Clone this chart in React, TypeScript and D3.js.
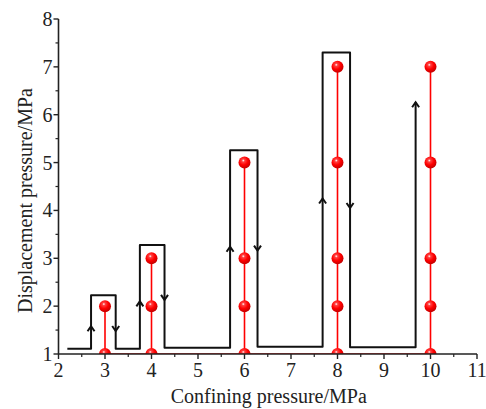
import React from "react"
import * as d3 from "d3"

// Data
const confining = [3, 4, 6, 8, 10]
const displacement = [
  [1, 2],
  [1, 2, 3],
  [1, 2, 3, 5],
  [1, 2, 3, 5, 7],
  [1, 2, 3, 5, 7]
]
// black loading path (confining, displacement)
const pathX = [2.19, 2.7, 2.7, 3.23, 3.23, 3.75, 3.75, 4.28, 4.28, 5.69, 5.69, 6.28, 6.28, 7.68, 7.68, 8.27, 8.27, 9.68, 9.68]
const pathY = [1.11, 1.11, 2.23, 2.23, 1.11, 1.11, 3.28, 3.28, 1.13, 1.13, 5.26, 5.26, 1.15, 1.15, 7.3, 7.3, 1.14, 1.14, 6.26]
// arrow heads on the path
const arrowX = [2.7, 3.23, 3.75, 4.28, 5.69, 6.28, 7.68, 8.27, 9.68]
const arrowY = [1.58, 1.48, 2.1, 2.13, 3.24, 3.16, 4.25, 4.05, 6.26]
const arrowDir = ["up", "down", "up", "down", "up", "down", "up", "down", "up"]

const xTicks = d3.range(2, 12)
const yTicks = d3.range(1, 9)
const xMinor = d3.range(2.5, 11, 1)
const yMinor = d3.range(1.5, 8, 1)

export default function App() {
  const totalW = 486
  const totalH = 409
  const margin = { top: 19, bottom: 55, left: 58.5, right: 9 }
  const w = totalW - margin.left - margin.right
  const h = totalH - margin.top - margin.bottom

  const xScale = d3.scaleLinear().domain([2, 11]).range([0, w])
  const yScale = d3.scaleLinear().domain([1, 8]).range([h, 0])

  const line = d3
    .line<number>()
    .x((d, i) => xScale(pathX[i]))
    .y(d => yScale(d))

  const axisColor = "#222"
  const font = "Liberation Serif"

  return (
    <svg
      width={totalW}
      height={totalH}
      style={{ position: "absolute", left: 0, top: 0 }}
    >
      <defs>
        <radialGradient id="ball" cx="0.4" cy="0.33" r="0.68">
          <stop offset="0" stopColor="#fff" />
          <stop offset="0.18" stopColor="#ff4040" />
          <stop offset="0.55" stopColor="#f00" />
          <stop offset="1" stopColor="#c00000" />
        </radialGradient>
        <clipPath id="plot">
          <rect x={0} y={-20} width={w + 10} height={h + 20} />
        </clipPath>
      </defs>
      <g transform={`translate(${margin.left}, ${margin.top})`}>
        <g clipPath="url(#plot)">
          {/* red horizontal base line */}
          <line
            x1={xScale(confining[0])}
            x2={xScale(confining[confining.length - 1])}
            y1={yScale(1)}
            y2={yScale(1)}
            stroke="#f00"
            strokeWidth={1.6}
          />
          {confining.map((c, i) => (
            <line
              key={`v-${c}`}
              x1={xScale(c)}
              x2={xScale(c)}
              y1={yScale(1)}
              y2={yScale(d3.max(displacement[i])!)}
              stroke="#f00"
              strokeWidth={1.6}
            />
          ))}
          <path
            d={line(pathY)!}
            fill="none"
            stroke="#111"
            strokeWidth={2}
            strokeLinejoin="round"
          />
          {arrowX.map((x, i) => {
            const cx = xScale(x)
            const cy = yScale(arrowY[i])
            const s = arrowDir[i] === "up" ? 1 : -1
            return (
              <path
                key={`a-${i}`}
                d={`M${cx - 3.5},${cy + s * 5} L${cx},${cy} L${cx + 3.5},${cy + s * 5}`}
                fill="none"
                stroke="#111"
                strokeWidth={2}
              />
            )
          })}
          {confining.map((c, i) =>
            displacement[i].map(v => (
              <circle
                key={`b-${c}-${v}`}
                cx={xScale(c)}
                cy={yScale(v)}
                r={6}
                fill="url(#ball)"
              />
            ))
          )}
        </g>

        {/* x axis */}
        <g transform={`translate(0, ${h})`}>
          <line x1={0} x2={w} y1={0} y2={0} stroke={axisColor} strokeWidth={1.6} />
          {xTicks.map(t => (
            <g key={`xt-${t}`} transform={`translate(${xScale(t)}, 0)`}>
              <line y1={0} y2={5} stroke={axisColor} strokeWidth={1.4} />
              <text
                y={23}
                textAnchor="middle"
                fontFamily={font}
                fontSize={20}
                fill="#222"
              >
                {t}
              </text>
            </g>
          ))}
          {xMinor.map(t => (
            <line
              key={`xm-${t}`}
              x1={xScale(t)}
              x2={xScale(t)}
              y1={0}
              y2={3}
              stroke={axisColor}
              strokeWidth={1.2}
            />
          ))}
          <text
            x={w / 2 + 1}
            y={49}
            textAnchor="middle"
            fontFamily={font}
            fontSize={20}
            fill="#222"
          >
            Confining pressure/MPa
          </text>
        </g>

        {/* y axis */}
        <line x1={0} x2={0} y1={0} y2={h} stroke={axisColor} strokeWidth={1.6} />
        {yTicks.map(t => (
          <g key={`yt-${t}`} transform={`translate(0, ${yScale(t)})`}>
            <line x1={-5} x2={0} stroke={axisColor} strokeWidth={1.4} />
            <text
              x={-6}
              dy="0.35em"
              textAnchor="end"
              fontFamily={font}
              fontSize={20}
              fill="#222"
            >
              {t}
            </text>
          </g>
        ))}
        {yMinor.map(t => (
          <line
            key={`ym-${t}`}
            x1={-3}
            x2={0}
            y1={yScale(t)}
            y2={yScale(t)}
            stroke={axisColor}
            strokeWidth={1.2}
          />
        ))}
        <text
          transform={`translate(${-margin.left + 32}, ${h / 2 + 14}) rotate(-90)`}
          textAnchor="middle"
          fontFamily={font}
          fontSize={20}
          fill="#222"
        >
          Displacement pressure/MPa
        </text>
      </g>
    </svg>
  )
}
